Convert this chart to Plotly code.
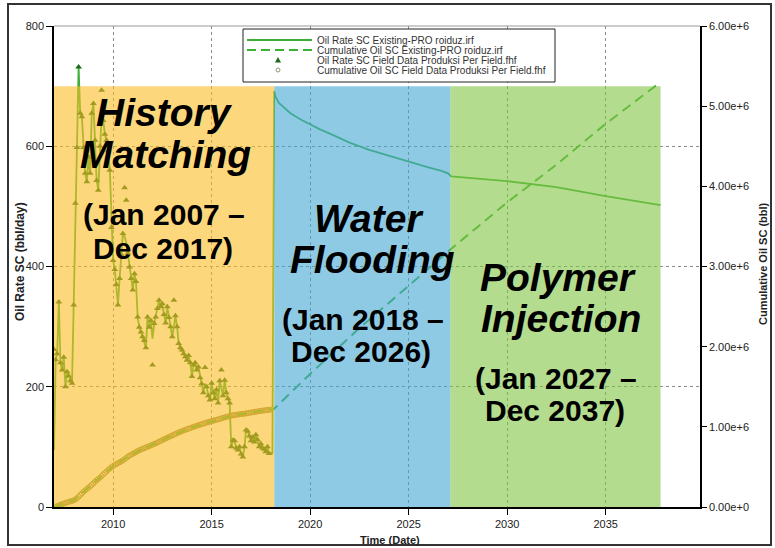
import plotly.graph_objects as go
import pandas as pd

# ---------------- data ----------------
hist_months = [d.strftime("%Y-%m-%d") for d in pd.date_range("2007-01-01", "2017-12-01", freq="MS")]
hist_month_ends = [d.strftime("%Y-%m-%d") for d in pd.date_range("2007-01-31", "2017-12-31", freq="ME")]

field_rate = [
    262, 245, 255, 341, 240, 228, 249, 200, 225, 218, 210, 206,
    336, 505, 598, 732, 655, 649, 598, 555, 541, 582, 555, 655,
    671, 610, 543, 527, 600, 693, 643, 620, 610, 593, 560, 465,
    410, 395, 370, 336, 380, 420, 455, 531, 510, 422, 399, 380,
    361, 388, 375, 316, 299, 291, 283, 277, 265, 316, 299, 310,
    236, 305, 316, 330, 344, 333, 338, 320, 306, 333, 315, 300,
    283, 344, 318, 300, 272, 265, 261, 255, 250, 244, 252, 240,
    217, 236, 240, 228, 233, 215, 205, 190, 232, 200, 185, 178,
    206, 190, 180, 195, 173, 210, 228, 185, 211, 190, 180, 173,
    100, 111, 110, 98, 95, 100, 88, 83, 100, 128, 126, 118,
    110, 116, 108, 120, 112, 100, 105, 98, 96, 92, 100, 89,
]

sim_hist_rate = [
    95, 245, 255, 341, 240, 228, 249, 200, 225, 218, 210, 206,
    336, 505, 598, 732, 655, 649, 598, 555, 541, 582, 555, 655,
    671, 610, 543, 527, 600, 650, 643, 620, 610, 593, 560, 465,
    410, 395, 370, 336, 380, 420, 455, 450, 440, 422, 399, 380,
    361, 388, 375, 316, 299, 291, 283, 277, 265, 316, 299, 310,
    280, 305, 316, 330, 344, 333, 338, 320, 306, 333, 315, 300,
    283, 300, 318, 300, 272, 265, 261, 255, 250, 244, 252, 240,
    217, 236, 240, 228, 233, 215, 205, 190, 205, 200, 185, 178,
    206, 190, 180, 195, 173, 210, 200, 185, 211, 190, 180, 173,
    100, 111, 110, 98, 95, 100, 88, 83, 100, 128, 126, 118,
    110, 116, 108, 120, 112, 100, 105, 98, 96, 92, 100, 89,
]

fc_dates = ["2018-01-01", "2018-02-01", "2018-03-05", "2018-04-01", "2018-06-01", "2018-09-01",
            "2019-01-01", "2019-07-01", "2020-01-01", "2020-07-01", "2021-01-01", "2022-01-01",
            "2023-01-01", "2024-01-01", "2025-01-01", "2026-01-01", "2026-09-01", "2027-01-01",
            "2027-03-01", "2028-01-01", "2030-01-01", "2032-07-01", "2035-01-01", "2037-10-15"]
fc_rate = [90, 88, 692, 682, 672, 664, 655, 645, 636, 628, 621, 606,
           594, 584, 574, 565, 559, 555, 550, 548, 542, 532, 517, 502]

cum_field_k = [
    3, 11, 18, 29, 36, 43, 51, 57, 64, 70, 76, 83,
    93, 108, 126, 149, 169, 188, 207, 224, 240, 258, 275, 294,
    315, 333, 350, 366, 384, 405, 425, 443, 462, 480, 497, 511,
    524, 536, 547, 557, 569, 581, 595, 611, 627, 640, 652, 663,
    674, 686, 697, 707, 716, 725, 733, 742, 750, 759, 768, 778,
    785, 794, 804, 814, 824, 834, 845, 854, 864, 874, 883, 892,
    901, 911, 921, 930, 938, 946, 954, 962, 970, 977, 985, 992,
    999, 1006, 1013, 1020, 1027, 1034, 1040, 1046, 1053, 1059, 1064, 1070,
    1076, 1082, 1087, 1093, 1098, 1105, 1112, 1117, 1124, 1129, 1135, 1140,
    1143, 1147, 1150, 1153, 1156, 1159, 1162, 1164, 1167, 1171, 1175, 1178,
    1182, 1185, 1188, 1192, 1195, 1198, 1202, 1205, 1208, 1210, 1213, 1216,
]

cum_sim_dates = ["2007-01-01", "2008-01-01", "2009-01-01", "2010-01-01", "2011-01-01", "2012-01-01",
                 "2013-01-01", "2014-01-01", "2015-01-01", "2016-01-01", "2017-01-01", "2018-01-01",
                 "2018-03-05", "2020-01-01", "2022-07-01", "2025-01-01", "2027-03-01", "2030-01-01",
                 "2032-07-01", "2035-01-01", "2037-10-15"]
cum_sim_k = [0, 83, 294, 511, 663, 778, 892, 992, 1070, 1140, 1178, 1216,
             1225, 1660, 2230, 2760, 3220, 3800, 4270, 4780, 5300]

phase_bounds = ["2007-01-01", "2018-03-08", "2027-02-15", "2037-10-15"]
phase_colors = ["rgba(252,188,37,0.6)", "rgba(68,167,210,0.6)", "rgba(130,197,68,0.6)"]

x_tick_years = [2010, 2015, 2020, 2025, 2030, 2035]
y_ticks = [0, 200, 400, 600, 800]
y2_ticks = [0, 1e6, 2e6, 3e6, 4e6, 5e6, 6e6]
y2_ticktext = ["0.00e+0", "1.00e+6", "2.00e+6", "3.00e+6", "4.00e+6", "5.00e+6", "6.00e+6"]

legend_labels = ["Oil Rate SC Existing-PRO roiduz.irf",
                 "Cumulative Oil SC Existing-PRO roiduz.irf",
                 "Oil Rate SC Field Data Produksi Per Field.fhf",
                 "Cumulative Oil SC Field Data Produksi Per Field.fhf"]

# ---------------- geometry helpers ----------------
W, H = 775, 548
L, R, T, B = 54, 700, 26, 507
PW, PH = R - L, B - T


def px(x):
    return (x - L) / PW


def py(y):
    return (B - y) / PH


FONT = "Liberation Sans, Arial, sans-serif"
SIM_GREEN = "rgb(60,175,55)"
FIELD_GREEN = "rgb(30,105,25)"
CIRC_COL = "rgb(150,140,70)"

fig = go.Figure()

fig.add_trace(go.Scatter(
    x=hist_month_ends, y=[v * 1000 for v in cum_field_k], yaxis="y2", mode="markers",
    marker=dict(symbol="circle-open", size=5, color=CIRC_COL, line=dict(width=1)),
    showlegend=False, hoverinfo="skip"))

fig.add_trace(go.Scatter(
    x=cum_sim_dates, y=[v * 1000 for v in cum_sim_k], yaxis="y2", mode="lines",
    line=dict(color=SIM_GREEN, width=2, dash="10px,6px"),
    showlegend=False, hoverinfo="skip"))

fig.add_trace(go.Scatter(
    x=hist_months + fc_dates, y=sim_hist_rate + fc_rate, mode="lines",
    line=dict(color=SIM_GREEN, width=1.8),
    showlegend=False, hoverinfo="skip"))

fig.add_trace(go.Scatter(
    x=hist_months, y=field_rate, mode="markers",
    marker=dict(symbol="triangle-up", size=6, color=FIELD_GREEN),
    showlegend=False, hoverinfo="skip"))

shapes = []
for i in range(3):
    shapes.append(dict(type="rect", xref="x", yref="y", x0=phase_bounds[i], x1=phase_bounds[i + 1],
                       y0=0, y1=700, fillcolor=phase_colors[i], line=dict(width=0), layer="above"))

# top frame line of plot area
shapes.append(dict(type="line", xref="paper", yref="paper", x0=0, x1=1, y0=1, y1=1,
                   line=dict(color="#999999", width=1), layer="above"))

# outer border
shapes.append(dict(type="rect", xref="paper", yref="paper", x0=px(8), x1=px(771), y0=py(545), y1=py(4),
                   line=dict(color="#333333", width=2), fillcolor="rgba(0,0,0,0)", layer="above"))

# manual legend
shapes.append(dict(type="rect", xref="paper", yref="paper", x0=px(243), x1=px(555), y0=py(82), y1=py(29),
                   line=dict(color="#222222", width=1), fillcolor="white", layer="above"))
row_y = [40, 50, 60, 70]
shapes.append(dict(type="line", xref="paper", yref="paper", x0=px(247), x1=px(312), y0=py(row_y[0]), y1=py(row_y[0]),
                   line=dict(color=SIM_GREEN, width=2), layer="above"))
shapes.append(dict(type="line", xref="paper", yref="paper", x0=px(247), x1=px(312), y0=py(row_y[1]), y1=py(row_y[1]),
                   line=dict(color=SIM_GREEN, width=2, dash="9px,5px"), layer="above"))
tx, ty = 278, row_y[2]
shapes.append(dict(type="path", xref="paper", yref="paper",
                   path=f"M {px(tx-3)} {py(ty+2.5)} L {px(tx+3)} {py(ty+2.5)} L {px(tx)} {py(ty-3)} Z",
                   fillcolor=FIELD_GREEN, line=dict(width=0), layer="above"))
cx, cy = 278, row_y[3]
shapes.append(dict(type="circle", xref="paper", yref="paper", x0=px(cx-2), x1=px(cx+2), y0=py(cy+2), y1=py(cy-2),
                   line=dict(color="rgb(150,150,120)", width=1), fillcolor="white", layer="above"))

annotations = []
for lbl, yy in zip(legend_labels, row_y):
    annotations.append(dict(xref="paper", yref="paper", x=px(315), y=py(yy), text=lbl, showarrow=False,
                            xanchor="left", yanchor="middle", font=dict(family=FONT, size=10, color="#333333")))

# big region texts
def big(text, x, y, size, italic):
    t = f"<b><i>{text}</i></b>" if italic else f"<b>{text}</b>"
    annotations.append(dict(xref="paper", yref="paper", x=px(x), y=py(y), text=t, showarrow=False,
                            xanchor="center", yanchor="middle", font=dict(family=FONT, size=size, color="black")))

big("History", 164, 112, 39, True)
big("Matching", 165, 154, 39, True)
big("(Jan 2007 –", 164, 215, 30, False)
big("Dec 2017)", 163, 248, 30, False)

big("Water", 368, 218, 39, True)
big("Flooding", 372, 259, 39, True)
big("(Jan 2018 –", 363, 319, 30, False)
big("Dec 2026)", 361, 351, 30, False)

big("Polymer", 558, 277, 39, True)
big("Injection", 561, 318, 39, True)
big("(Jan 2027 –", 556, 378, 30, False)
big("Dec 2037)", 555, 410, 30, False)

# axis titles
annotations.append(dict(xref="paper", yref="paper", x=px(20), y=py(262), text="<b>Oil Rate SC (bbl/day)</b>",
                        textangle=-90, showarrow=False, xanchor="center", yanchor="middle",
                        font=dict(family=FONT, size=12, color="#222222")))
annotations.append(dict(xref="paper", yref="paper", x=px(763), y=py(264), text="<b>Cumulative Oil SC (bbl)</b>",
                        textangle=-90, showarrow=False, xanchor="center", yanchor="middle",
                        font=dict(family=FONT, size=11, color="#222222")))
annotations.append(dict(xref="paper", yref="paper", x=px(390), y=py(540), text="<b>Time (Date)</b>",
                        showarrow=False, xanchor="center", yanchor="middle",
                        font=dict(family=FONT, size=11, color="#222222")))

fig.update_layout(
    width=W, height=H,
    margin=dict(l=L, r=W - R, t=T, b=H - B, pad=0),
    paper_bgcolor="white", plot_bgcolor="white",
    font=dict(family=FONT, size=11, color="#222222"),
    showlegend=False,
    xaxis=dict(type="date", range=["2007-01-01", "2039-10-16"],
               tickvals=[f"{y}-01-01" for y in x_tick_years], ticktext=[str(y) for y in x_tick_years],
               showgrid=True, gridcolor="#8a8a8a", griddash="dot", gridwidth=1,
               showline=True, linecolor="black", linewidth=1.5,
               ticks="outside", ticklen=6, tickcolor="black", zeroline=False,
               tickfont=dict(size=11, color="#222222")),
    yaxis=dict(range=[0, 800], tickvals=y_ticks, showgrid=True, gridcolor="#8a8a8a", griddash="dot",
               gridwidth=1, showline=True, linecolor="black", linewidth=1.5, ticks="outside", ticklen=6,
               tickcolor="black", zeroline=False, tickfont=dict(size=11, color="#222222")),
    yaxis2=dict(range=[0, 6e6], overlaying="y", side="right", tickvals=y2_ticks, ticktext=y2_ticktext,
                showgrid=False, showline=True, linecolor="black", linewidth=1.5, ticks="outside", ticklen=5,
                tickcolor="black", zeroline=False, tickfont=dict(size=11, color="#222222")),
    shapes=shapes,
    annotations=annotations,
)

fig.write_html("out.html")
